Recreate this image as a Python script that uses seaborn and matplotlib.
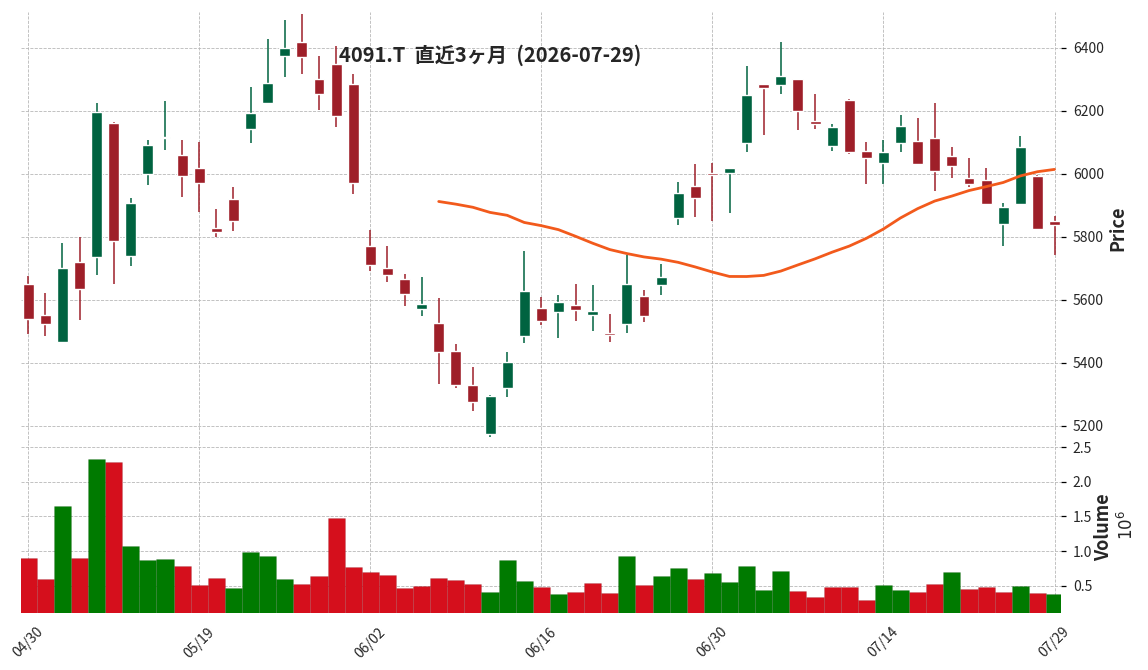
import numpy as np
import pandas as pd
import matplotlib
matplotlib.use('Agg')
import matplotlib.pyplot as plt
import seaborn as sns

# 4091.T 日足 (直近3ヶ月)
dates = ['04/30', '05/01', '05/07', '05/08', '05/11', '05/12', '05/13', '05/14', '05/15', '05/18',
         '05/19', '05/20', '05/21', '05/22', '05/25', '05/26', '05/27', '05/28', '05/29', '06/01',
         '06/02', '06/03', '06/04', '06/05', '06/08', '06/09', '06/10', '06/11', '06/12', '06/15',
         '06/16', '06/17', '06/18', '06/19', '06/22', '06/23', '06/24', '06/25', '06/26', '06/29',
         '06/30', '07/01', '07/02', '07/03', '07/06', '07/07', '07/08', '07/09', '07/10', '07/13',
         '07/14', '07/15', '07/16', '07/17', '07/21', '07/22', '07/23', '07/24', '07/27', '07/28',
         '07/29']
opens = [5652, 5551, 5466, 5722, 5735, 6163, 5739, 6000, 6114, 6061,
         6020, 5830, 5919, 6142, 6224, 6374, 6420, 6300, 6350, 6284,
         5772, 5701, 5665, 5570, 5528, 5439, 5331, 5174, 5320, 5485,
         5576, 5561, 5585, 5551, 5491, 5524, 5611, 5647, 5859, 5963,
         6000, 6002, 6097, 6287, 6281, 6300, 6169, 6088, 6234, 6074,
         6034, 6097, 6103, 6115, 6058, 5988, 5981, 5840, 5904, 5995,
         5852]
highs = [5675, 5622, 5781, 5800, 6225, 6165, 5924, 6108, 6232, 6108,
         6102, 5889, 5959, 6276, 6429, 6489, 6508, 6374, 6406, 6317,
         5823, 5770, 5683, 5674, 5606, 5460, 5387, 5298, 5436, 5756,
         5608, 5616, 5651, 5648, 5556, 5743, 5632, 5714, 5975, 6030,
         6035, 6019, 6343, 6287, 6419, 6300, 6253, 6159, 6238, 6102,
         6109, 6187, 6178, 6225, 6087, 6051, 6019, 5909, 6121, 5998,
         5867]
lows = [5492, 5485, 5464, 5535, 5679, 5651, 5707, 5965, 6076, 5927,
        5880, 5800, 5819, 6098, 6224, 6308, 6317, 6203, 6149, 5937,
        5693, 5657, 5582, 5549, 5333, 5319, 5248, 5165, 5292, 5463,
        5520, 5479, 5533, 5502, 5467, 5495, 5530, 5615, 5838, 5863,
        5852, 5876, 6070, 6124, 6254, 6141, 6144, 6073, 6064, 5969,
        5969, 6070, 6031, 5946, 5987, 5958, 5904, 5772, 5904, 5824,
        5742]
closes = [5540, 5524, 5700, 5634, 6198, 5786, 5909, 6093, 6116, 5993,
          5970, 5815, 5850, 6192, 6290, 6400, 6370, 6253, 6183, 5970,
          5710, 5678, 5618, 5588, 5434, 5329, 5275, 5294, 5404, 5630,
          5532, 5592, 5567, 5566, 5490, 5652, 5548, 5674, 5938, 5923,
          5998, 6019, 6249, 6272, 6312, 6199, 6158, 6150, 6069, 6050,
          6071, 6153, 6031, 6008, 6024, 5967, 5904, 5896, 6087, 5824,
          5837]
volumes = [896000, 596000, 1656000, 896000, 2329000, 2286000, 1068000, 868000, 882000, 782000,
           510000, 610000, 467000, 982000, 925000, 596000, 524000, 638000, 1484000, 767000,
           696000, 653000, 467000, 495000, 610000, 581000, 524000, 409000, 868000, 567000,
           481000, 381000, 409000, 538000, 395000, 925000, 510000, 638000, 753000, 596000,
           681000, 553000, 782000, 438000, 710000, 424000, 338000, 481000, 481000, 295000,
           510000, 438000, 409000, 524000, 696000, 452000, 481000, 409000, 495000, 395000,
           381000]

df = pd.DataFrame({'date': dates, 'open': opens, 'high': highs, 'low': lows,
                   'close': closes, 'volume': volumes})
df['x'] = np.arange(len(df))
df['ma25'] = df['close'].rolling(25).mean()
df['vol_m'] = df['volume'] / 1e6
# 出来高の色は前日終値との比較
df['vol_dir'] = np.where(df['close'].diff() > 0, 'up', 'down')

# 色
c_up, c_down = '#006340', '#9e1f29'
v_up, v_down = '#007a00', '#d50f1c'
ma_color = '#f25a1c'

sns.set_theme(style='white')
plt.rcParams['font.family'] = ['Noto Sans CJK JP', 'DejaVu Sans']

W, H = 1148, 670
fig = plt.figure(figsize=(W / 100, H / 100), dpi=100)
left, right = 21, 1061
ax_p = fig.add_axes([left / W, (H - 443) / H, (right - left) / W, (443 - 12) / H])
ax_v = fig.add_axes([left / W, (H - 613) / H, (right - left) / W, (613 - 443) / H], sharex=ax_p)

# ローソク足
body_lo = np.minimum(df['open'], df['close'])
body_h = np.maximum((df['close'] - df['open']).abs(), 4)
cols = np.where(df['close'] >= df['open'], c_up, c_down)
ax_p.vlines(df['x'], df['low'], df['high'], colors=cols, lw=1.1, zorder=2)
ax_p.bar(df['x'], body_h, bottom=body_lo, width=0.64, color=cols, zorder=3)

# 25日移動平均
sns.lineplot(data=df, x='x', y='ma25', ax=ax_p, color=ma_color, lw=2.0, zorder=4)

# 出来高
sns.barplot(data=df, x='x', y='vol_m', hue='vol_dir', palette={'up': v_up, 'down': v_down},
            dodge=False, width=1.0, saturation=1, errorbar=None, legend=False,
            native_scale=True, linewidth=0.4, edgecolor='#00000026', ax=ax_v)

tick_pos = list(range(0, len(df), 10))
for ax in (ax_p, ax_v):
    for s in ax.spines.values():
        s.set_visible(False)
    ax.yaxis.tick_right()
    ax.grid(True, ls='--', lw=0.6, color='#b8b8b8')
    ax.set_xticks(tick_pos)
    ax.tick_params(axis='both', length=3.5, width=0.9, color='black', labelsize=10, pad=5)
    ax.set_xlabel('')
    ax.set_ylabel('')

ax_p.set_xlim(-0.42, 60.38)
ax_p.set_ylim(5146, 6514)
ax_p.set_yticks([5200, 5400, 5600, 5800, 6000, 6200, 6400])
ax_p.tick_params(axis='x', length=0, labelbottom=False)

ax_v.set_ylim(0.105, 2.562)
ax_v.set_yticks([0.5, 1.0, 1.5, 2.0, 2.5])
ax_v.set_xticks(tick_pos)
ax_v.set_xticklabels([df['date'][i] for i in tick_pos], rotation=45, ha='center')

# 軸ラベル (右側)
fig.text(1118 / W, 1 - 228 / H, 'Price', rotation=90, fontsize=13, fontweight='bold',
         ha='center', va='center')
fig.text(1104 / W, 1 - 527 / H, 'Volume', rotation=90, fontsize=13, fontweight='bold',
         ha='center', va='center')
fig.text(1127 / W, 1 - 525 / H, r'$10^6$', rotation=90, fontsize=12,
         ha='center', va='center')

fig.text(490 / W, 1 - 55 / H, '4091.T  直近3ヶ月  (2026-07-29)',
         fontsize=14.5, fontweight='bold', ha='center', va='center')

fig.savefig('out.png', dpi=100)
